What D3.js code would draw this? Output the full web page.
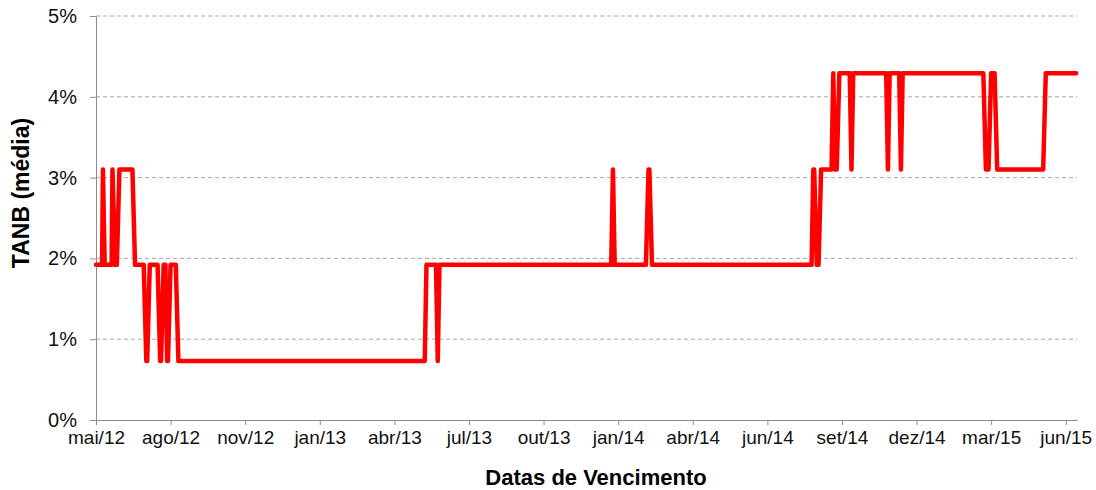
<!DOCTYPE html>
<html>
<head>
<meta charset="utf-8">
<script src="https://cdn.jsdelivr.net/npm/d3@7"></script>
<style>
  body { margin: 0; background: #fff; }
  text { font-family: Arial, "Liberation Sans", sans-serif; }
</style>
</head>
<body>
<svg id="chart" width="1096" height="490"></svg>
<script>
// TANB media por data de vencimento
const dates = [
  "2012-05-14","2012-05-21","2012-05-22","2012-05-24","2012-06-01","2012-06-02","2012-06-05","2012-06-07",
  "2012-06-10","2012-06-25","2012-06-28","2012-07-08","2012-07-11","2012-07-12","2012-07-15","2012-07-24",
  "2012-07-27","2012-07-28","2012-07-31","2012-08-02","2012-08-04","2012-08-05","2012-08-08","2012-08-14",
  "2012-08-17","2013-05-28","2013-05-30","2013-06-10","2013-06-12","2013-06-14","2013-12-29","2013-12-31",
  "2014-01-02","2014-02-07","2014-02-10","2014-02-11","2014-02-14","2014-08-17","2014-08-19","2014-08-20",
  "2014-08-23","2014-08-25","2014-08-28","2014-09-09","2014-09-11","2014-09-13","2014-09-15","2014-09-18",
  "2014-09-30","2014-10-02","2014-10-04","2014-11-11","2014-11-13","2014-11-15","2014-11-26","2014-11-28",
  "2014-11-30","2015-03-03","2015-03-06","2015-03-09","2015-03-12","2015-03-16","2015-03-19","2015-05-11",
  "2015-05-14","2015-06-18"
]
const tanb = [
  1.92,1.92,3.1,1.92,1.92,3.1,1.92,1.92,
  3.1,3.1,1.92,1.92,0.73,0.73,1.92,1.92,
  0.73,0.73,1.92,1.92,0.73,0.73,1.92,1.92,
  0.73,0.73,1.92,1.92,0.73,1.92,1.92,3.1,
  1.92,1.92,3.1,3.1,1.92,1.92,3.1,3.1,
  1.92,1.92,3.1,3.1,4.29,3.1,3.1,4.29,
  4.29,3.1,4.29,4.29,3.1,4.29,4.29,3.1,
  4.29,4.29,3.1,3.1,4.29,4.29,3.1,3.1,
  4.29,4.29
]

const tickDates = ["2012-05-14","2012-08-08","2012-11-02","2013-01-27","2013-04-23","2013-07-18","2013-10-12",
                   "2014-01-06","2014-04-02","2014-06-27","2014-09-21","2014-12-16","2015-03-12","2015-06-06"]
const tickLabels = ["mai/12","ago/12","nov/12","jan/13","abr/13","jul/13","out/13",
                    "jan/14","abr/14","jun/14","set/14","dez/14","mar/15","jun/15"]
const yTicks = [0, 1, 2, 3, 4, 5]

const parse = d3.utcParse("%Y-%m-%d")
const data = dates.map((d, i) => ({date: parse(d), value: tanb[i]}))

const margin = {top: 16, right: 19, bottom: 70, left: 96}
const width = 1096, height = 490
const svg = d3.select("#chart")

const x = d3.scaleUtc()
    .domain([parse("2012-05-14"), parse("2015-06-19")])
    .range([margin.left, width - margin.right])
const y = d3.scaleLinear()
    .domain([0, 5])
    .range([height - margin.bottom, margin.top])

// grid
svg.append("g")
    .selectAll("line")
    .data(yTicks.filter(d => d > 0))
    .enter()
    .append("line")
    .attr("x1", margin.left)
    .attr("x2", width - margin.right)
    .attr("y1", d => y(d))
    .attr("y2", d => y(d))
    .attr("stroke", "#a6a6a6")
    .attr("stroke-width", 1)
    .attr("stroke-dasharray", "4,3")

// y axis
const gy = svg.append("g")
    .attr("transform", "translate(" + margin.left + ",0)")
    .call(d3.axisLeft(y).tickValues(yTicks).tickFormat(d => d + "%").tickSize(6).tickSizeOuter(0).tickPadding(13))
gy.selectAll("line, path").attr("stroke", "#8c8c8c")
gy.selectAll("text").style("font-size", "20px").attr("fill", "#111")

// x axis
const gx = svg.append("g")
    .attr("transform", "translate(0," + (height - margin.bottom) + ")")
    .call(d3.axisBottom(x).tickValues(tickDates.map(parse)).tickFormat((d, i) => tickLabels[i]).tickSize(5).tickSizeOuter(0).tickPadding(6))
gx.selectAll("line, path").attr("stroke", "#8c8c8c")
gx.selectAll("text").style("font-size", "19px").attr("fill", "#111")

// line
svg.append("path")
    .datum(data)
    .attr("fill", "none")
    .attr("stroke", "#ff0000")
    .attr("stroke-width", 4.5)
    .attr("stroke-linejoin", "round")
    .attr("stroke-linecap", "round")
    .attr("d", d3.line().x(d => x(d.date)).y(d => y(d.value)))

// titles
svg.append("text")
    .attr("x", 596)
    .attr("y", 485)
    .attr("text-anchor", "middle")
    .style("font-size", "22px")
    .style("font-weight", "bold")
    .attr("fill", "#000")
    .text("Datas de Vencimento")

svg.append("text")
    .attr("transform", "translate(29,193) rotate(-90)")
    .attr("text-anchor", "middle")
    .style("font-size", "23px")
    .style("font-weight", "bold")
    .attr("fill", "#000")
    .text("TANB (média)")
</script>
</body>
</html>
